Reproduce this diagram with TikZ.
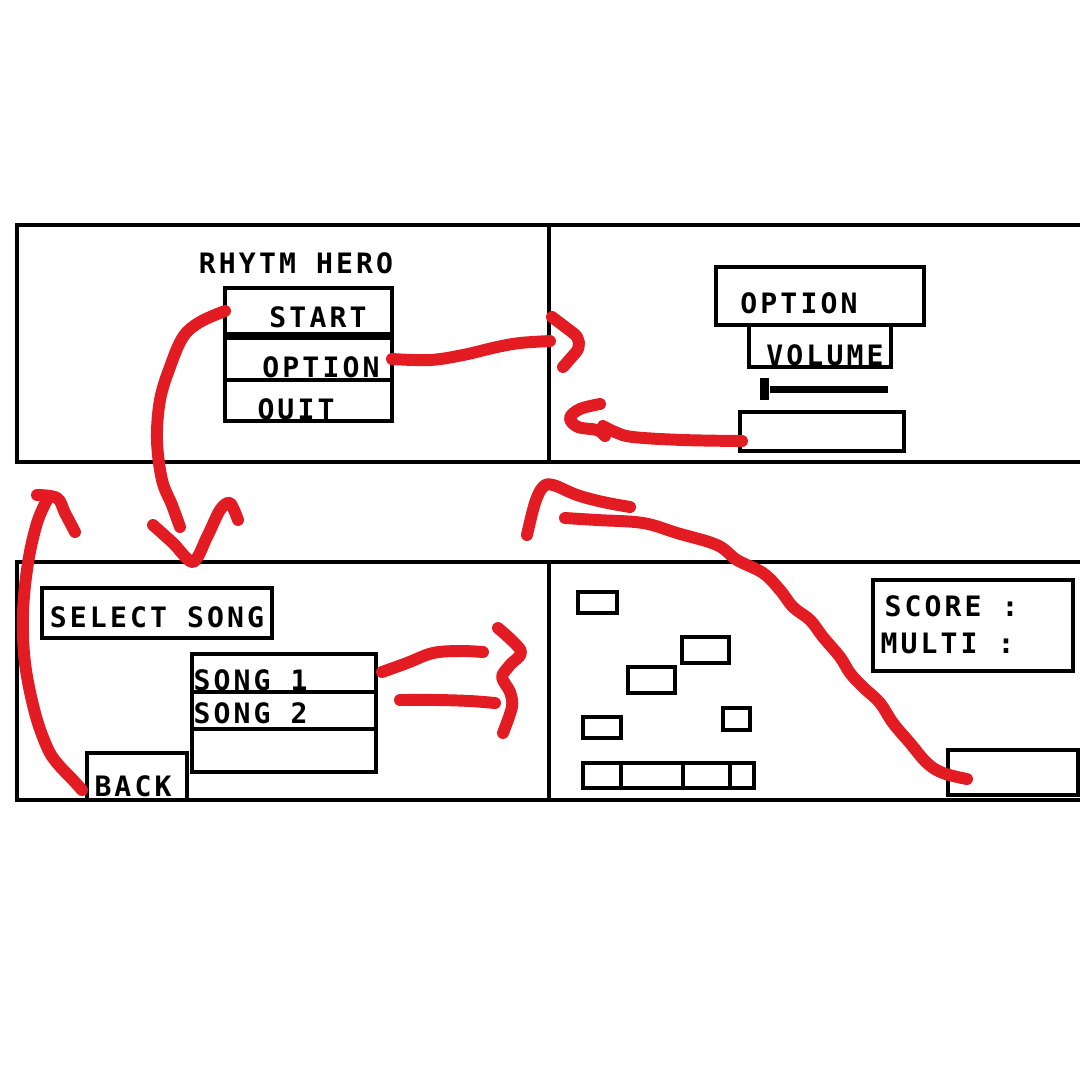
\documentclass[tikz,border=0pt]{standalone}
\usepackage{fontspec}
\usepackage{tikz}
\usetikzlibrary{positioning}
\newfontfamily\pixfont{DejaVu Sans Mono}[LetterSpace=11]
\definecolor{penred}{HTML}{E31B23}

\begin{document}
\begin{tikzpicture}[x=0.1mm, y=-0.1mm,
		scrbox/.style={draw, line width=1pt, inner sep=0pt, outer sep=0pt, anchor=north west},
		pixtext/.style={font=\pixfont\bfseries\fontsize{8}{9}\selectfont, inner sep=0pt},
		scribble/.style={draw=penred, line width=3.4pt, line cap=round, line join=round},
		]
		\fill[white] (0,0) rectangle (1080,1080);
		\useasboundingbox (0,0) rectangle (1080,1080);

		%Screens
		\node[scrbox, minimum width=53.2mm, minimum height=23.7mm] (menu)  at (17,225)  {};
		\node[scrbox, minimum width=54mm,   minimum height=23.7mm] (opts)  at (549,225) {};
		\node[scrbox, minimum width=53.2mm, minimum height=23.8mm] (songs) at (17,562)  {};
		\node[scrbox, minimum width=54mm,   minimum height=23.8mm] (game)  at (549,562) {};

		%Main menu
		\node[pixtext] (title) at (296,263) {RHYTM HERO};
		\node[scrbox, minimum width=16.7mm, minimum height=4.6mm] (startbtn) at (225,288) {};
		\node[scrbox, minimum width=16.7mm, minimum height=4.2mm] (optbtn)   at (225,338) {};
		\node[scrbox, minimum width=16.7mm, minimum height=4.1mm] (quitbtn)  at (225,380) {};
		\node[pixtext] at (318,317) {START};
		\node[pixtext] at (321,367) {OPTION};
		\node[pixtext] at (296,411) {QUIT};

		%Option screen
		\node[scrbox, minimum width=20.8mm, minimum height=5.8mm] (opthead) at (716,267) {};
		\node[scrbox, minimum width=14.2mm, minimum height=4.2mm] (volbox)  at (749,325) {};
		\node[pixtext] at (799,303) {OPTION};
		\node[pixtext] at (825,355) {VOLUME};
		\node[fill, inner sep=0pt, minimum width=0.9mm, minimum height=2.2mm] (knob) at (765,389) {};
		\draw[line width=2pt] (knob.east) -- (888,389);
		\node[scrbox, minimum width=16.4mm, minimum height=3.9mm] (volback) at (740,412) {};
		\coordinate (volgrab) at (742,441);

		%Song select
		\node[scrbox, minimum width=23mm, minimum height=5mm] (selhead) at (42,588) {};
		\node[pixtext] at (157,617) {SELECT SONG};
		\node[scrbox, minimum width=18.4mm, minimum height=3.8mm] (song1) at (192,654) {};
		\node[scrbox, minimum width=18.4mm, minimum height=3.7mm] (song2) at (192,692) {};
		\node[scrbox, minimum width=18.4mm, minimum height=4.3mm] (song3) at (192,729) {};
		\node[pixtext, anchor=west] at (193,680) {SONG 1};
		\node[pixtext, anchor=west] at (193,713) {SONG 2};
		\node[scrbox, minimum width=10mm, minimum height=4.7mm] (backbtn) at (87,753) {};
		\node[pixtext] at (133,786) {BACK};

		%Game screen
		\node[scrbox, minimum width=3.9mm, minimum height=2.1mm] (n1) at (578,592) {};
		\node[scrbox, minimum width=4.7mm, minimum height=2.6mm] (n2) at (682,637) {};
		\node[scrbox, minimum width=4.7mm, minimum height=2.6mm] (n3) at (628,667) {};
		\node[scrbox, minimum width=3.8mm, minimum height=2.1mm] (n4) at (583,717) {};
		\node[scrbox, minimum width=2.7mm, minimum height=2.2mm] (n5) at (723,708) {};
		\node[scrbox, minimum width=3.8mm, minimum height=2.5mm] (k1) at (583,763) {};
		\node[scrbox, minimum width=6.2mm, minimum height=2.5mm] (k2) at (621,763) {};
		\node[scrbox, minimum width=4.7mm, minimum height=2.5mm] (k3) at (683,763) {};
		\node[scrbox, minimum width=2.4mm, minimum height=2.5mm] (k4) at (730,763) {};
		\node[scrbox, minimum width=20mm, minimum height=9.1mm] (scorebox) at (873,580) {};
		\node[pixtext, anchor=west] at (884,606) {SCORE :};
		\node[pixtext, anchor=west] at (880,643) {MULTI :};
		\node[scrbox, minimum width=13mm, minimum height=4.5mm] (pausebtn) at (948,750) {};

		%Arrows
		\draw[scribble] plot[smooth, tension=0.6] coordinates {(startbtn.west) (200,322) (183,337) (170,367) (160,400) (157,440) (162,480) (172,505) (180,527)};
		\draw[scribble] plot[smooth, tension=0.5] coordinates {(153,525) (173,543) (193,562) (207,537) (220,510) (230,503) (238,520)};

		\draw[scribble] plot[smooth, tension=0.6] coordinates {(optbtn.east) (430,360) (463,355) (497,347) (520,343) (550,341)};
		\draw[scribble, rounded corners=4pt] (552,317) -- (585,342) -- (563,367);

		\draw[scribble] plot[smooth, tension=0.6] coordinates {(volgrab) (683,440) (633,437) (615,432) (603,426)};
		\draw[scribble] plot[smooth, tension=0.6] coordinates {(600,404) (580,409) (570,418) (578,427) (597,430) (605,436)};

		\draw[scribble] plot[smooth, tension=0.6] coordinates {(382,672) (407,663) (433,653) (460,651) (483,652)};
		\draw[scribble] plot[smooth, tension=0.6] coordinates {(400,700) (437,700) (470,701) (495,703)};
		\draw[scribble] plot[smooth, tension=0.5] coordinates {(498,628) (521,651) (510,665) (502,677) (510,692) (512,707) (503,733)};

		\draw[scribble] plot[smooth, tension=0.6] coordinates {(82,790) (73,780) (57,763) (47,747) (35,713) (25,663) (23,613) (28,563) (37,523) (47,500)};
		\draw[scribble] plot[smooth, tension=0.6] coordinates {(37,495) (57,498) (65,513) (75,532)};

		\draw[scribble] plot[smooth, tension=0.6] coordinates {(967,779) (943,773) (927,763) (910,743) (893,723) (880,703) (863,687) (850,673) (840,657) (823,637) (810,620) (793,607) (780,590) (763,573) (737,560) (717,545) (677,533) (643,523) (597,520) (565,518)};
		\draw[scribble] plot[smooth, tension=0.6] coordinates {(527,535) (535,503) (543,487) (553,485) (577,495) (603,502) (630,507)};
\end{tikzpicture}
\end{document}
